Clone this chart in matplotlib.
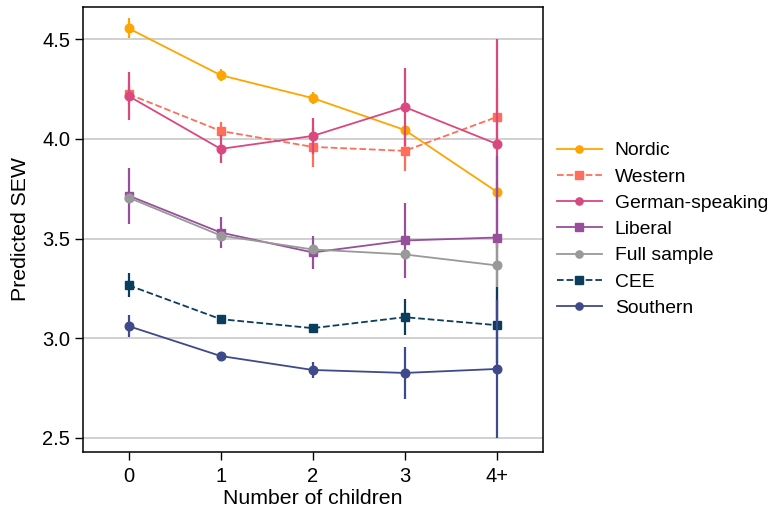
"""Predicted SEW by number of children and welfare regime."""

import matplotlib.pyplot as plt
import numpy as np
from matplotlib.lines import Line2D

plt.rcParams["font.family"] = ["Liberation Sans", "DejaVu Sans"]

categories = ["0", "1", "2", "3", "4+"]

nordic = [4.555, 4.32, 4.205, 4.045, 3.735]
nordic_ci = [0.05, 0.03, 0.03, 0.02, 0.05]
western = [4.225, 4.04, 3.96, 3.94, 4.11]
western_ci = [0.05, 0.045, 0.10, 0.10, 0.15]
german = [4.215, 3.95, 4.015, 4.16, 3.975]
german_ci = [0.12, 0.07, 0.09, 0.195, 0.525]
liberal = [3.715, 3.53, 3.43, 3.49, 3.505]
liberal_ci = [0.14, 0.08, 0.085, 0.19, 0.41]
full = [3.705, 3.515, 3.445, 3.42, 3.365]
full_ci = [0.02, 0.015, 0.015, 0.02, 0.11]
cee = [3.265, 3.095, 3.05, 3.105, 3.065]
cee_ci = [0.06, 0.02, 0.02, 0.09, 0.19]
southern = [3.06, 2.91, 2.84, 2.825, 2.845]
southern_ci = [0.055, 0.02, 0.04, 0.13, 0.345]

series = [
    ("Nordic", nordic, nordic_ci, "#FFA500", "-", "o"),
    ("Western", western, western_ci, "#FF6E5A", "--", "s"),
    ("German-speaking", german, german_ci, "#D9487E", "-", "o"),
    ("Liberal", liberal, liberal_ci, "#974F9C", "-", "s"),
    ("Full sample", full, full_ci, "#999999", "-", "o"),
    ("CEE", cee, cee_ci, "#0B3D5C", "--", "s"),
    ("Southern", southern, southern_ci, "#3F4A8A", "-", "o"),
]

fig = plt.figure(figsize=(7.7, 5.14), dpi=100)
ax = fig.add_axes([0.1074, 0.1206, 0.5974, 0.8664])

x = np.arange(len(categories))
handles = []
for i, (name, y, ci, color, ls, mk) in enumerate(series):
    ax.errorbar(x, y, yerr=ci, color=color, ls=ls, marker=mk, ms=6.2,
                lw=1.3, elinewidth=1.6, capsize=0, zorder=3 + i)
    handles.append(Line2D([], [], color=color, ls=ls, marker=mk, ms=5.2,
                          lw=1.3, label=name))

ax.set_xlim(-0.5, 4.5)
ax.set_ylim(2.428, 4.664)
ax.set_xticks(x)
ax.set_xticklabels(categories)
ax.set_yticks([2.5, 3.0, 3.5, 4.0, 4.5])
ax.set_yticklabels(["2.5", "3.0", "3.5", "4.0", "4.5"])
ax.tick_params(labelsize=14.5, length=6, width=1, direction="out")
ax.tick_params(axis="x", pad=5)
ax.tick_params(axis="y", pad=3)
ax.grid(True, axis="y", color="#C8C8C8", lw=1.2, zorder=0)
ax.set_axisbelow(True)
ax.set_xlabel("Number of children", fontsize=15.3, labelpad=2)
ax.set_ylabel("Predicted SEW", fontsize=15.3, labelpad=9)
for sp in ax.spines.values():
    sp.set_linewidth(1.1)

ax.legend(handles=handles, loc="center left", bbox_to_anchor=(1.014, 0.50),
          frameon=False, fontsize=13.9, handlelength=2.33, handletextpad=0.67,
          labelspacing=0.45, borderaxespad=0)

fig.savefig("out.png")
plt.close(fig)
